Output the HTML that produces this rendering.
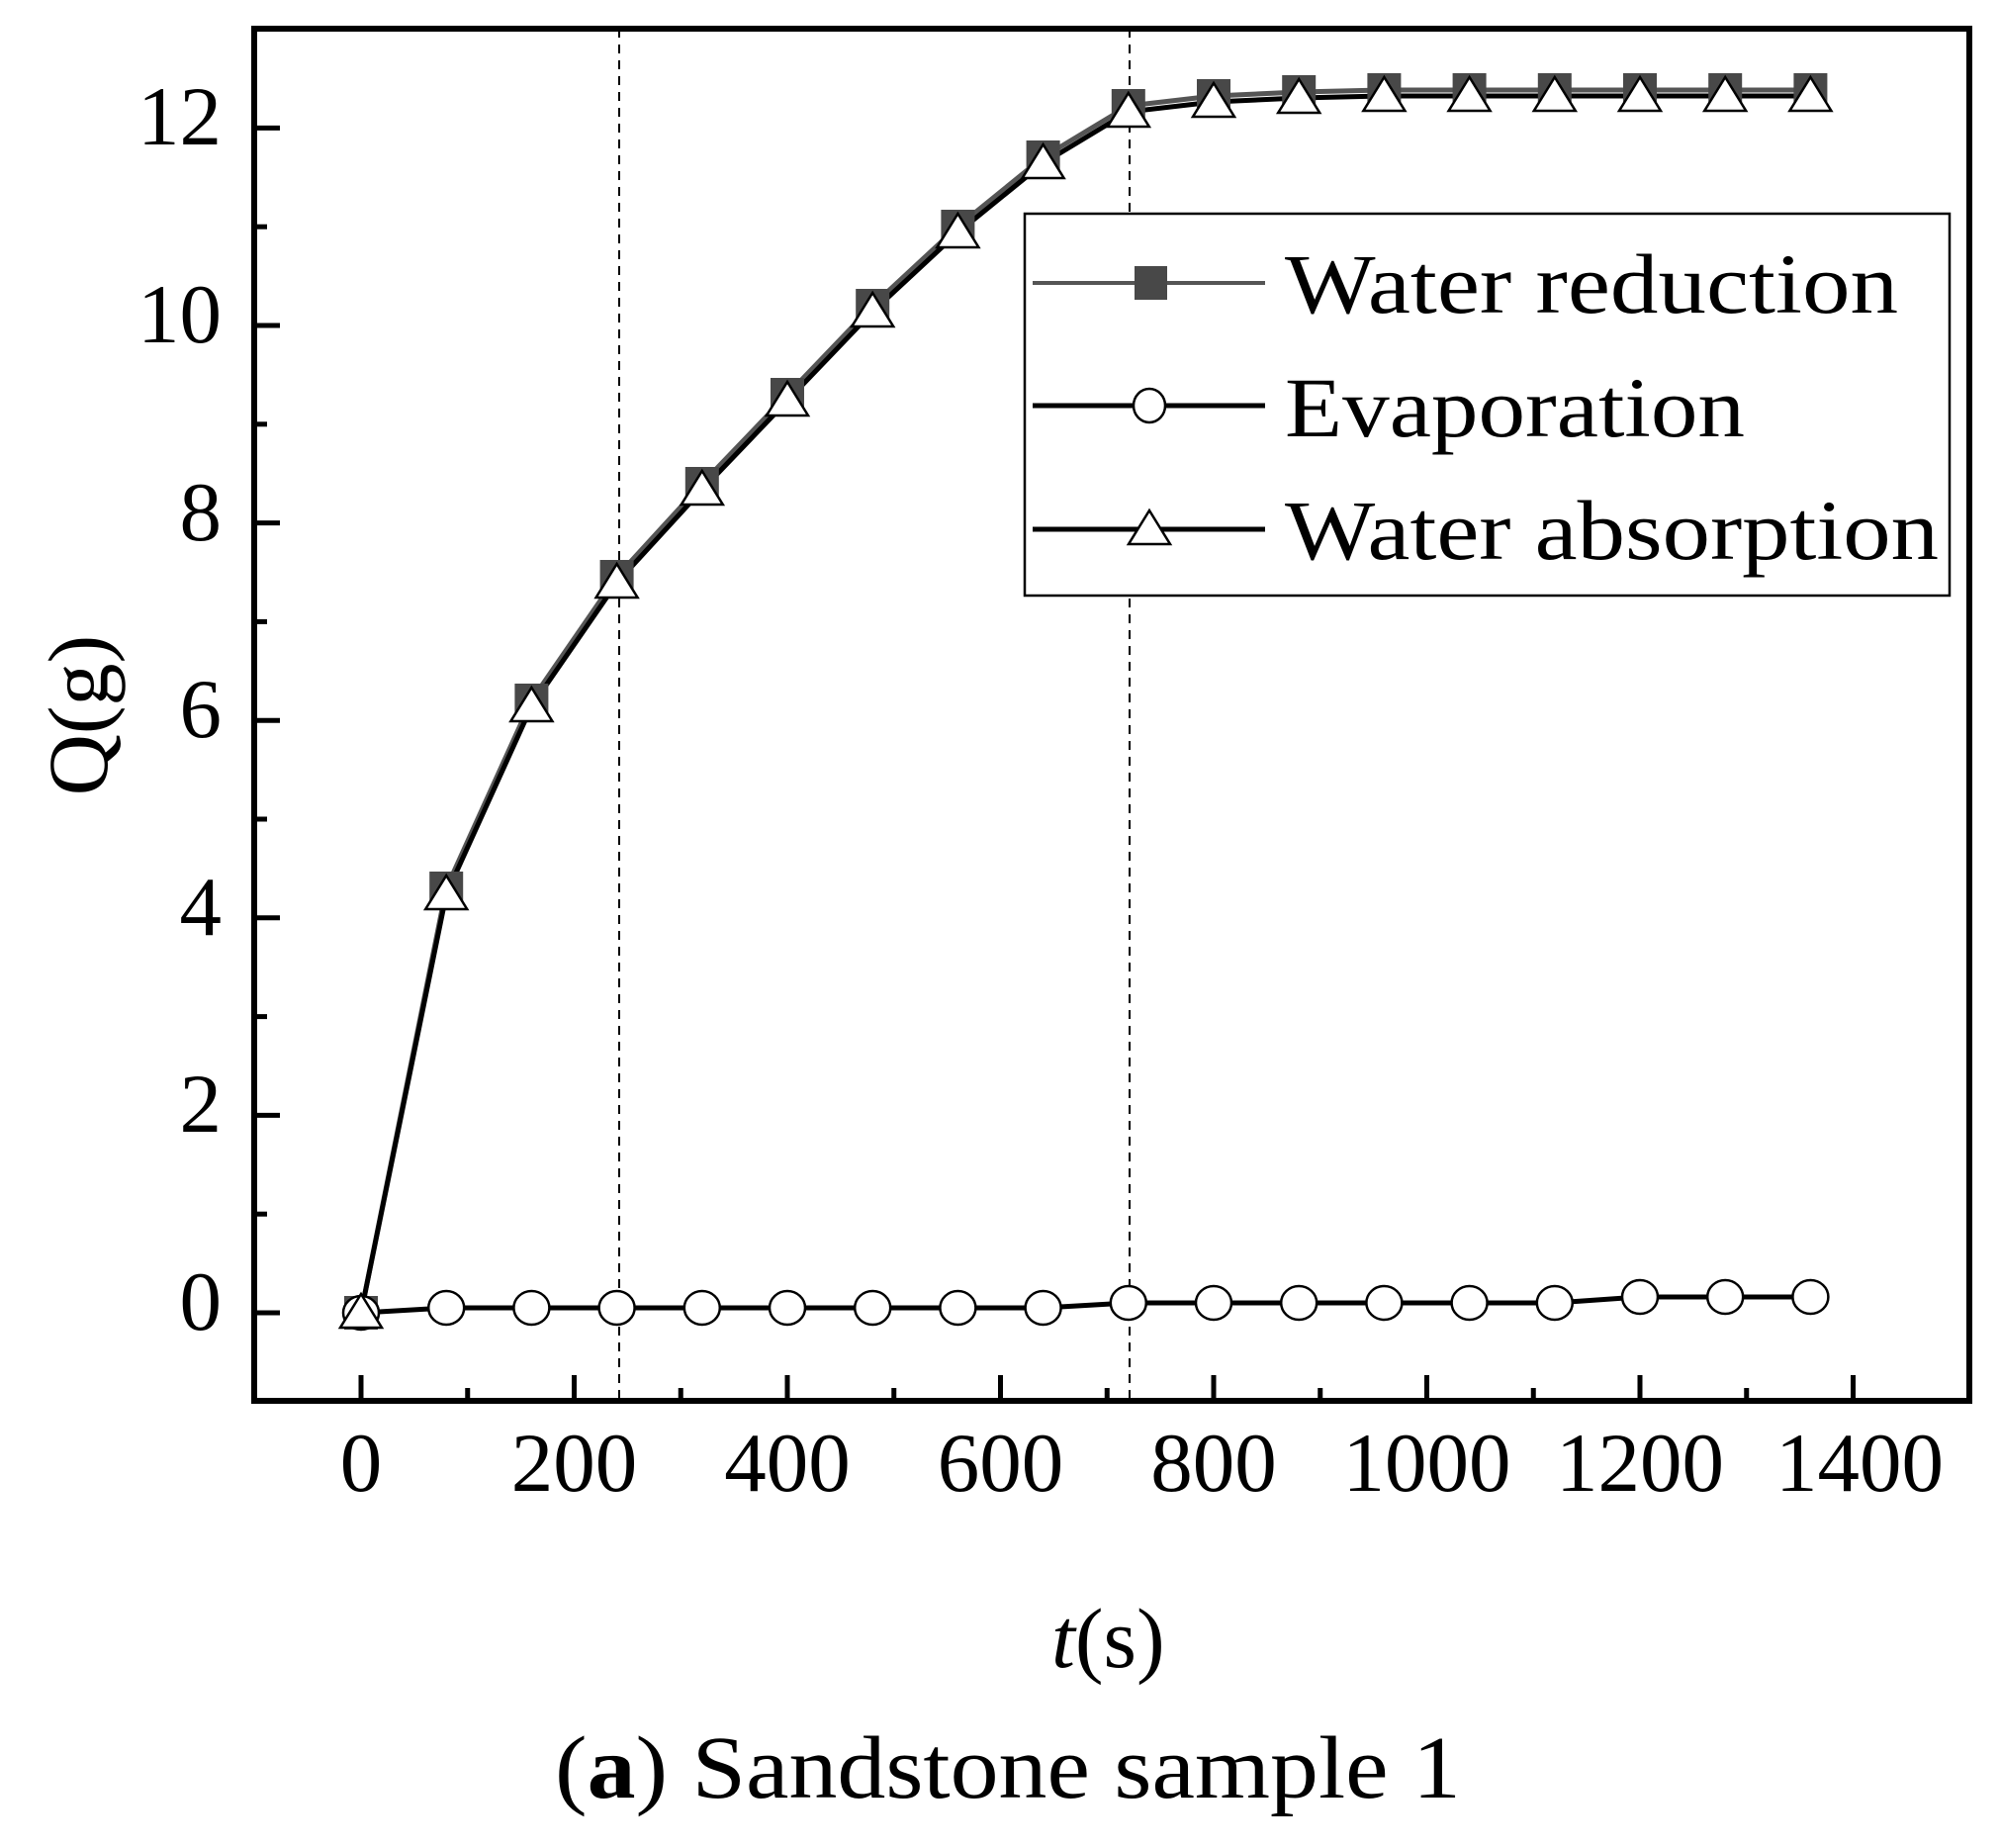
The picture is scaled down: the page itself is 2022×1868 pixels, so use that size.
<!DOCTYPE html>
<html><head><meta charset="utf-8">
<style>html,body{margin:0;padding:0;background:#fff;}svg{display:block;}</style>
</head><body>
<svg width="2022" height="1868" viewBox="0 0 2022 1868" xmlns="http://www.w3.org/2000/svg" font-family="'Liberation Serif', serif">
<rect width="2022" height="1868" fill="#fff"/>
<!-- dashed lines -->
<line x1="626" y1="29" x2="626" y2="1416" stroke="#000" stroke-width="2" stroke-dasharray="9,7"/>
<line x1="1142" y1="29" x2="1142" y2="1416" stroke="#000" stroke-width="2" stroke-dasharray="9,7"/>
<!-- axes box -->
<rect x="257" y="29" width="1734" height="1387" fill="none" stroke="#000" stroke-width="6"/>
<g stroke="#000" stroke-width="5">
<!-- x major -->
<line x1="365" y1="1416" x2="365" y2="1390"/><line x1="580.5" y1="1416" x2="580.5" y2="1390"/>
<line x1="796" y1="1416" x2="796" y2="1390"/><line x1="1011.5" y1="1416" x2="1011.5" y2="1390"/>
<line x1="1227" y1="1416" x2="1227" y2="1390"/><line x1="1442.5" y1="1416" x2="1442.5" y2="1390"/>
<line x1="1658" y1="1416" x2="1658" y2="1390"/><line x1="1873.5" y1="1416" x2="1873.5" y2="1390"/>
<!-- x minor -->
<line x1="472.75" y1="1416" x2="472.75" y2="1403"/><line x1="688.25" y1="1416" x2="688.25" y2="1403"/>
<line x1="903.75" y1="1416" x2="903.75" y2="1403"/><line x1="1119.25" y1="1416" x2="1119.25" y2="1403"/>
<line x1="1334.75" y1="1416" x2="1334.75" y2="1403"/><line x1="1550.25" y1="1416" x2="1550.25" y2="1403"/>
<line x1="1765.75" y1="1416" x2="1765.75" y2="1403"/>
<!-- y major -->
<line x1="257" y1="1327" x2="283" y2="1327"/><line x1="257" y1="1127.4" x2="283" y2="1127.4"/>
<line x1="257" y1="927.8" x2="283" y2="927.8"/><line x1="257" y1="728.2" x2="283" y2="728.2"/>
<line x1="257" y1="528.6" x2="283" y2="528.6"/><line x1="257" y1="329" x2="283" y2="329"/>
<line x1="257" y1="129.4" x2="283" y2="129.4"/>
<!-- y minor -->
<line x1="257" y1="1227.2" x2="270" y2="1227.2"/><line x1="257" y1="1027.6" x2="270" y2="1027.6"/>
<line x1="257" y1="828" x2="270" y2="828"/><line x1="257" y1="628.4" x2="270" y2="628.4"/>
<line x1="257" y1="428.8" x2="270" y2="428.8"/><line x1="257" y1="229.2" x2="270" y2="229.2"/>
</g>
<!-- y tick labels -->
<g font-size="85" text-anchor="end" fill="#000">
<text x="224" y="1344">0</text><text x="224" y="1144">2</text><text x="224" y="945">4</text>
<text x="224" y="745">6</text><text x="224" y="546">8</text><text x="224" y="346">10</text><text x="224" y="146">12</text>
</g>
<!-- x tick labels -->
<g font-size="85" text-anchor="middle" fill="#000">
<text x="365" y="1507">0</text><text x="580.5" y="1507">200</text><text x="796" y="1507">400</text>
<text x="1011.5" y="1507">600</text><text x="1227" y="1507">800</text><text x="1442.5" y="1507">1000</text>
<text x="1658" y="1507">1200</text><text x="1880" y="1507">1400</text>
</g>
<!-- axis titles -->
<text transform="translate(108,723) rotate(-90)" font-size="86" text-anchor="middle">Q(g)</text>
<text x="1063" y="1685" font-size="86"><tspan font-style="italic">t</tspan>(s)</text>
<text x="561" y="1817" font-size="90" textLength="916" lengthAdjust="spacingAndGlyphs">(<tspan font-weight="bold">a</tspan>) Sandstone sample 1</text>

<!-- water reduction line -->
<polyline fill="none" stroke="#555" stroke-width="5" points="365,1327 451.2,898 537.4,708 623.6,583 709.8,489 796,399 882.2,309 968.4,229 1054.6,159 1140.8,107 1227,97 1313.2,93 1399.4,91 1485.6,91 1571.8,91 1658,91 1744.2,91 1830.4,91"/>
<!-- absorption line -->
<polyline fill="none" stroke="#000" stroke-width="5" points="365,1327 451.2,904 537.4,714 623.6,589 709.8,495 796,405 882.2,315 968.4,235 1054.6,165 1140.8,113 1227,103 1313.2,99 1399.4,97 1485.6,97 1571.8,97 1658,97 1744.2,97 1830.4,97"/>
<!-- evaporation line -->
<polyline fill="none" stroke="#000" stroke-width="5" points="365,1327 451.2,1322 537.4,1322 623.6,1322 709.8,1322 796,1322 882.2,1322 968.4,1322 1054.6,1322 1140.8,1317 1227,1317 1313.2,1317 1399.4,1317 1485.6,1317 1571.8,1317 1658,1311 1744.2,1311 1830.4,1311"/>

<!-- squares -->
<g fill="#484848">
<rect x="348" y="1310" width="34" height="34"/><rect x="434.2" y="881" width="34" height="34"/>
<rect x="520.4" y="691" width="34" height="34"/><rect x="606.6" y="566" width="34" height="34"/>
<rect x="692.8" y="472" width="34" height="34"/><rect x="779" y="382" width="34" height="34"/>
<rect x="865.2" y="292" width="34" height="34"/><rect x="951.4" y="212" width="34" height="34"/>
<rect x="1037.6" y="142" width="34" height="34"/><rect x="1123.8" y="90" width="34" height="34"/>
<rect x="1210" y="80" width="34" height="34"/><rect x="1296.2" y="76" width="34" height="34"/>
<rect x="1382.4" y="74" width="34" height="34"/><rect x="1468.6" y="74" width="34" height="34"/>
<rect x="1554.8" y="74" width="34" height="34"/><rect x="1641" y="74" width="34" height="34"/>
<rect x="1727.2" y="74" width="34" height="34"/><rect x="1813.4" y="74" width="34" height="34"/>
</g>
<!-- circles -->
<g fill="#fff" stroke="#000" stroke-width="2.5">
<ellipse cx="365" cy="1327" rx="18" ry="17"/><ellipse cx="451.2" cy="1322" rx="18" ry="17"/>
<ellipse cx="537.4" cy="1322" rx="18" ry="17"/><ellipse cx="623.6" cy="1322" rx="18" ry="17"/>
<ellipse cx="709.8" cy="1322" rx="18" ry="17"/><ellipse cx="796" cy="1322" rx="18" ry="17"/>
<ellipse cx="882.2" cy="1322" rx="18" ry="17"/><ellipse cx="968.4" cy="1322" rx="18" ry="17"/>
<ellipse cx="1054.6" cy="1322" rx="18" ry="17"/><ellipse cx="1140.8" cy="1317" rx="18" ry="17"/>
<ellipse cx="1227" cy="1317" rx="18" ry="17"/><ellipse cx="1313.2" cy="1317" rx="18" ry="17"/>
<ellipse cx="1399.4" cy="1317" rx="18" ry="17"/><ellipse cx="1485.6" cy="1317" rx="18" ry="17"/>
<ellipse cx="1571.8" cy="1317" rx="18" ry="17"/><ellipse cx="1658" cy="1311" rx="18" ry="17"/>
<ellipse cx="1744.2" cy="1311" rx="18" ry="17"/><ellipse cx="1830.4" cy="1311" rx="18" ry="17"/>
</g>
<!-- triangles -->
<g fill="#fff" stroke="#000" stroke-width="2.5">
<polygon points="344,1342 386,1342 365,1308"/>
<polygon points="430.2,919 472.2,919 451.2,885"/>
<polygon points="516.4,729 558.4,729 537.4,695"/>
<polygon points="602.6,604 644.6,604 623.6,570"/>
<polygon points="688.8,510 730.8,510 709.8,476"/>
<polygon points="775,420 817,420 796,386"/>
<polygon points="861.2,330 903.2,330 882.2,296"/>
<polygon points="947.4,250 989.4,250 968.4,216"/>
<polygon points="1033.6,180 1075.6,180 1054.6,146"/>
<polygon points="1119.8,128 1161.8,128 1140.8,94"/>
<polygon points="1206,118 1248,118 1227,84"/>
<polygon points="1292.2,114 1334.2,114 1313.2,80"/>
<polygon points="1378.4,112 1420.4,112 1399.4,78"/>
<polygon points="1464.6,112 1506.6,112 1485.6,78"/>
<polygon points="1550.8,112 1592.8,112 1571.8,78"/>
<polygon points="1637,112 1679,112 1658,78"/>
<polygon points="1723.2,112 1765.2,112 1744.2,78"/>
<polygon points="1809.4,112 1851.4,112 1830.4,78"/>
</g>

<!-- legend -->
<rect x="1036" y="216" width="935" height="386" fill="#fff" stroke="#000" stroke-width="2.5"/>
<line x1="1044" y1="286" x2="1279" y2="286" stroke="#555" stroke-width="4"/>
<rect x="1147" y="269" width="33" height="34" fill="#484848"/>
<line x1="1044" y1="410" x2="1279" y2="410" stroke="#000" stroke-width="5"/>
<ellipse cx="1162" cy="410" rx="16" ry="17" fill="#fff" stroke="#000" stroke-width="2.5"/>
<line x1="1044" y1="535" x2="1279" y2="535" stroke="#000" stroke-width="5"/>
<polygon points="1141,550 1183,550 1162,516" fill="#fff" stroke="#000" stroke-width="2.5"/>
<g font-size="86" fill="#000">
<text x="1299" y="316" textLength="620" lengthAdjust="spacingAndGlyphs">Water reduction</text>
<text x="1299" y="441" textLength="465" lengthAdjust="spacingAndGlyphs">Evaporation</text>
<text x="1299" y="565" textLength="661" lengthAdjust="spacingAndGlyphs">Water absorption</text>
</g>
</svg>
</body></html>
